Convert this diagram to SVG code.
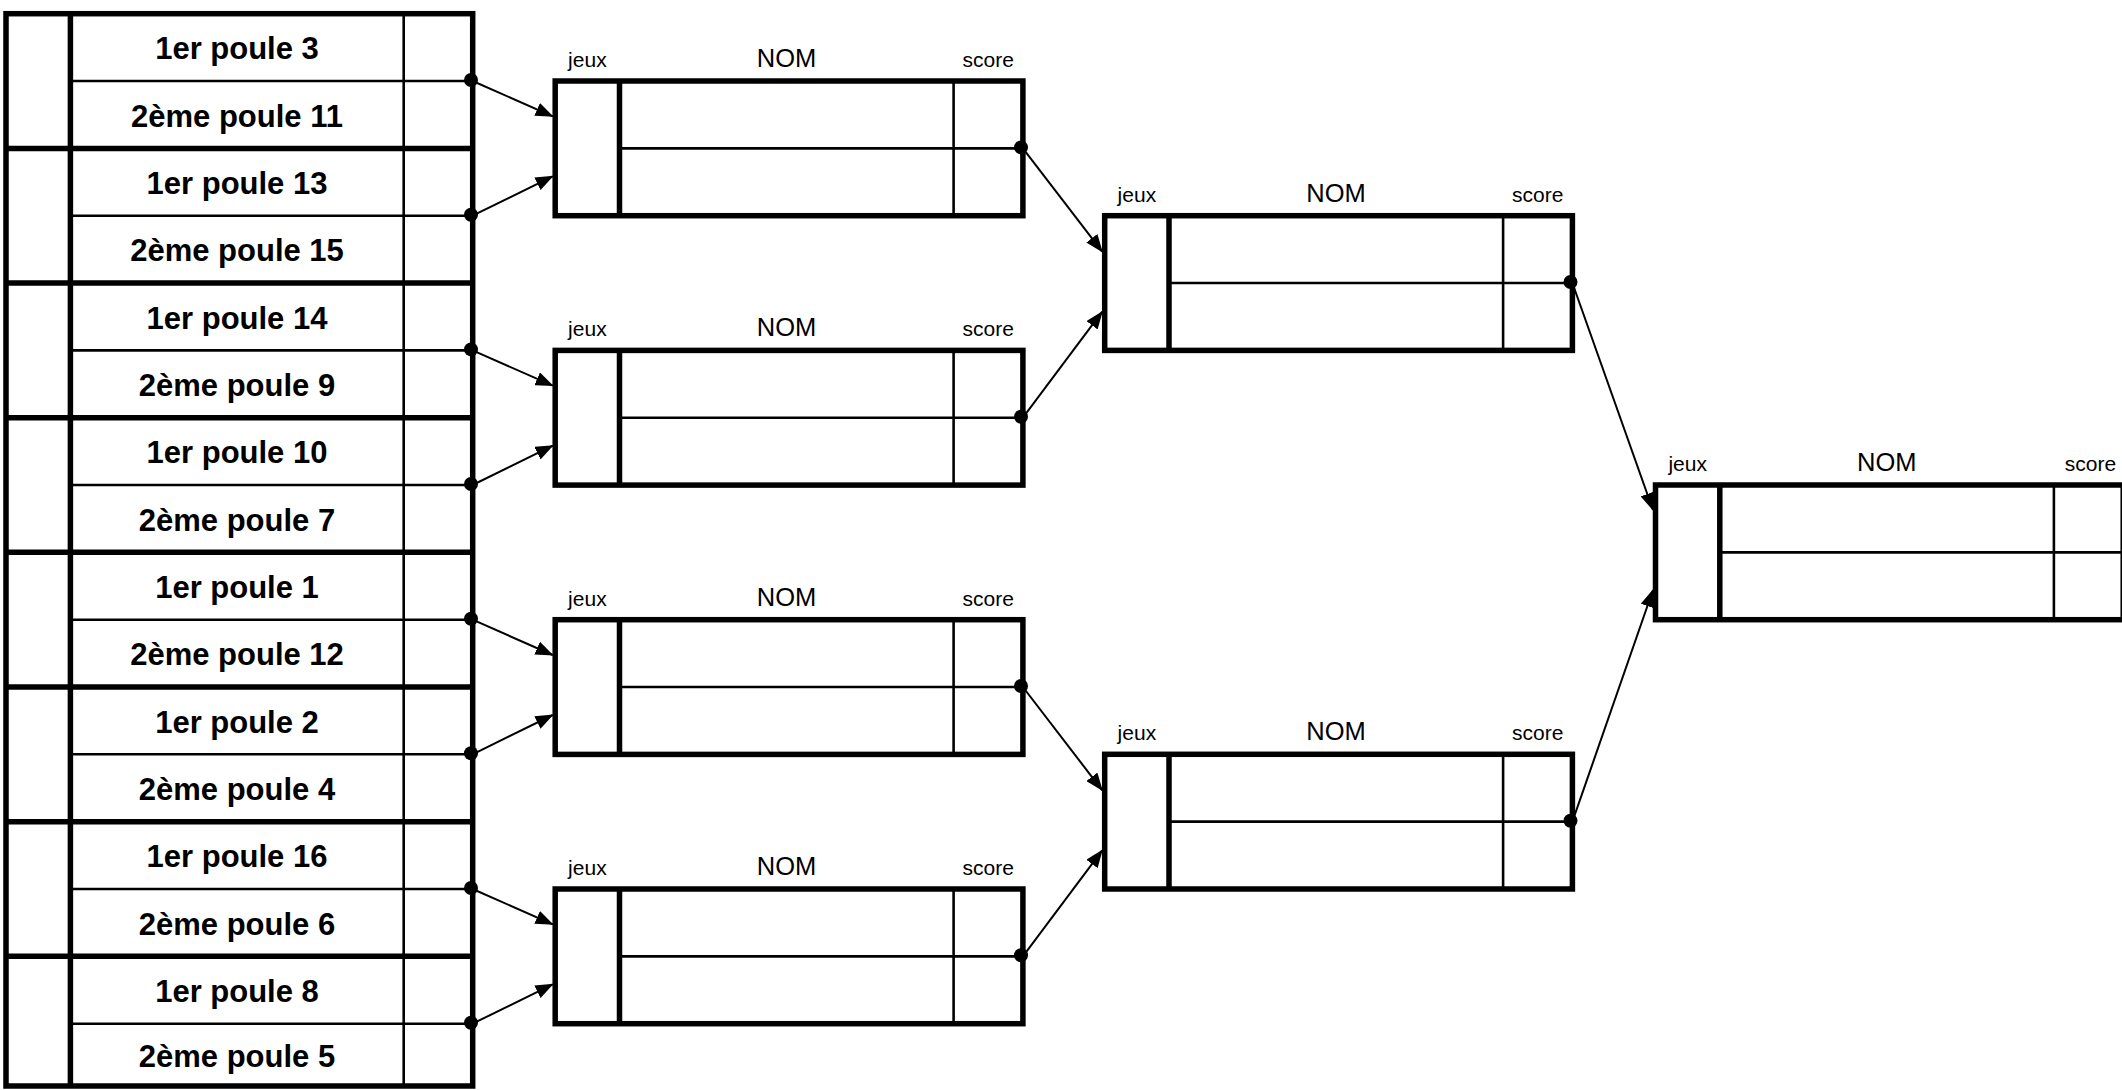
<svg xmlns="http://www.w3.org/2000/svg" width="2122" height="1090" viewBox="0 0 2122 1090">
<style>
.bg{fill:#fff}
.thick{stroke:#000;stroke-width:5.5;fill:none}
.thin{stroke:#000;stroke-width:2.6;fill:none}
.seed{font-family:"Liberation Sans",Arial,sans-serif;font-weight:bold;font-size:31px;text-anchor:middle;fill:#000}
.lab{font-family:"Liberation Sans",Arial,sans-serif;font-size:21px;text-anchor:middle;fill:#000}
.nom{font-family:"Liberation Sans",Arial,sans-serif;font-size:25.5px;text-anchor:middle;fill:#000}
.conn{stroke:#000;stroke-width:2;fill:none;marker-end:url(#ah)}
.dot{fill:#000}
</style>
<defs>
<marker id="ah" markerUnits="userSpaceOnUse" markerWidth="18" markerHeight="14" refX="17" refY="7" orient="auto">
<path d="M0,0 L18,7 L0,14 Z" fill="#000"/>
</marker>
</defs>
<rect class="bg" x="0" y="0" width="2122" height="1090"/>

<g id="seed-table">
<g id="seed-pair-1">
<line class="thin" x1="70.4" y1="81" x2="472.7" y2="81"/>
<text class="seed" x="237" y="59.4">1er poule 3</text>
<text class="seed" x="237" y="126.7">2ème poule 11</text>
</g>
<g id="seed-pair-2">
<line class="thin" x1="70.4" y1="215.7" x2="472.7" y2="215.7"/>
<text class="seed" x="237" y="194.1">1er poule 13</text>
<text class="seed" x="237" y="261.4">2ème poule 15</text>
</g>
<g id="seed-pair-3">
<line class="thin" x1="70.4" y1="350.4" x2="472.7" y2="350.4"/>
<text class="seed" x="237" y="328.7">1er poule 14</text>
<text class="seed" x="237" y="396.1">2ème poule 9</text>
</g>
<g id="seed-pair-4">
<line class="thin" x1="70.4" y1="485" x2="472.7" y2="485"/>
<text class="seed" x="237" y="463.4">1er poule 10</text>
<text class="seed" x="237" y="530.7">2ème poule 7</text>
</g>
<g id="seed-pair-5">
<line class="thin" x1="70.4" y1="619.7" x2="472.7" y2="619.7"/>
<text class="seed" x="237" y="598">1er poule 1</text>
<text class="seed" x="237" y="665.4">2ème poule 12</text>
</g>
<g id="seed-pair-6">
<line class="thin" x1="70.4" y1="754.3" x2="472.7" y2="754.3"/>
<text class="seed" x="237" y="732.7">1er poule 2</text>
<text class="seed" x="237" y="800">2ème poule 4</text>
</g>
<g id="seed-pair-7">
<line class="thin" x1="70.4" y1="889" x2="472.7" y2="889"/>
<text class="seed" x="237" y="867.4">1er poule 16</text>
<text class="seed" x="237" y="934.7">2ème poule 6</text>
</g>
<g id="seed-pair-8">
<line class="thin" x1="70.4" y1="1023.7" x2="472.7" y2="1023.7"/>
<text class="seed" x="237" y="1002">1er poule 8</text>
<text class="seed" x="237" y="1066.9">2ème poule 5</text>
</g>
<line class="thin" x1="403.7" y1="13.7" x2="403.7" y2="1086"/>
<line class="thick" x1="70.4" y1="13.7" x2="70.4" y2="1086"/>
<path class="thick" d="M6,148.4H472.7M6,283H472.7M6,417.7H472.7M6,552.3H472.7M6,687H472.7M6,821.7H472.7M6,956.3H472.7"/>
<rect class="thick" x="6" y="13.7" width="466.7" height="1072.3"/>
</g>

<g id="match-r1-1" transform="translate(555.2,81)">
<text class="lab" x="32.2" y="-14">jeux</text><text class="nom" x="231.3" y="-14">NOM</text><text class="lab" x="433" y="-14">score</text>
<line class="thin" x1="64.3" y1="67.35" x2="467.7" y2="67.35"/><line class="thin" x1="398.4" y1="0" x2="398.4" y2="134.7"/><line class="thick" x1="64.3" y1="0" x2="64.3" y2="134.7"/><rect class="thick" x="0" y="0" width="467.7" height="134.7"/>
</g>
<g id="match-r1-2" transform="translate(555.2,350.4)">
<text class="lab" x="32.2" y="-14">jeux</text><text class="nom" x="231.3" y="-14">NOM</text><text class="lab" x="433" y="-14">score</text>
<line class="thin" x1="64.3" y1="67.35" x2="467.7" y2="67.35"/><line class="thin" x1="398.4" y1="0" x2="398.4" y2="134.7"/><line class="thick" x1="64.3" y1="0" x2="64.3" y2="134.7"/><rect class="thick" x="0" y="0" width="467.7" height="134.7"/>
</g>
<g id="match-r1-3" transform="translate(555.2,619.7)">
<text class="lab" x="32.2" y="-14">jeux</text><text class="nom" x="231.3" y="-14">NOM</text><text class="lab" x="433" y="-14">score</text>
<line class="thin" x1="64.3" y1="67.35" x2="467.7" y2="67.35"/><line class="thin" x1="398.4" y1="0" x2="398.4" y2="134.7"/><line class="thick" x1="64.3" y1="0" x2="64.3" y2="134.7"/><rect class="thick" x="0" y="0" width="467.7" height="134.7"/>
</g>
<g id="match-r1-4" transform="translate(555.2,889)">
<text class="lab" x="32.2" y="-14">jeux</text><text class="nom" x="231.3" y="-14">NOM</text><text class="lab" x="433" y="-14">score</text>
<line class="thin" x1="64.3" y1="67.35" x2="467.7" y2="67.35"/><line class="thin" x1="398.4" y1="0" x2="398.4" y2="134.7"/><line class="thick" x1="64.3" y1="0" x2="64.3" y2="134.7"/><rect class="thick" x="0" y="0" width="467.7" height="134.7"/>
</g>
<g id="match-r2-1" transform="translate(1104.7,215.7)">
<text class="lab" x="32.2" y="-14">jeux</text><text class="nom" x="231.3" y="-14">NOM</text><text class="lab" x="433" y="-14">score</text>
<line class="thin" x1="64.3" y1="67.35" x2="467.7" y2="67.35"/><line class="thin" x1="398.4" y1="0" x2="398.4" y2="134.7"/><line class="thick" x1="64.3" y1="0" x2="64.3" y2="134.7"/><rect class="thick" x="0" y="0" width="467.7" height="134.7"/>
</g>
<g id="match-r2-2" transform="translate(1104.7,754.3)">
<text class="lab" x="32.2" y="-14">jeux</text><text class="nom" x="231.3" y="-14">NOM</text><text class="lab" x="433" y="-14">score</text>
<line class="thin" x1="64.3" y1="67.35" x2="467.7" y2="67.35"/><line class="thin" x1="398.4" y1="0" x2="398.4" y2="134.7"/><line class="thick" x1="64.3" y1="0" x2="64.3" y2="134.7"/><rect class="thick" x="0" y="0" width="467.7" height="134.7"/>
</g>
<g id="match-final" transform="translate(1655.5,485)">
<text class="lab" x="32.2" y="-14">jeux</text><text class="nom" x="231.3" y="-14">NOM</text><text class="lab" x="435" y="-14">score</text>
<line class="thin" x1="64.3" y1="67.35" x2="467.7" y2="67.35"/><line class="thin" x1="398.4" y1="0" x2="398.4" y2="134.7"/><line class="thick" x1="64.3" y1="0" x2="64.3" y2="134.7"/><rect class="thick" x="0" y="0" width="467.7" height="134.7"/>
</g>

<g id="connectors">
<line class="conn" x1="472.6" y1="81" x2="552.7" y2="116.3"/>
<line class="conn" x1="472.6" y1="215.7" x2="552.7" y2="176.3"/>
<line class="conn" x1="472.6" y1="350.4" x2="552.7" y2="385.7"/>
<line class="conn" x1="472.6" y1="485" x2="552.7" y2="445.7"/>
<line class="conn" x1="472.6" y1="619.7" x2="552.7" y2="655"/>
<line class="conn" x1="472.6" y1="754.3" x2="552.7" y2="715"/>
<line class="conn" x1="472.6" y1="889" x2="552.7" y2="924.3"/>
<line class="conn" x1="472.6" y1="1023.7" x2="552.7" y2="984.3"/>
<line class="conn" x1="1022.9" y1="148.4" x2="1102.2" y2="251.7"/>
<line class="conn" x1="1022.9" y1="417.7" x2="1102.2" y2="311.7"/>
<line class="conn" x1="1022.9" y1="687" x2="1102.2" y2="790.3"/>
<line class="conn" x1="1022.9" y1="956.3" x2="1102.2" y2="850.3"/>
<line class="conn" x1="1572.4" y1="283" x2="1653" y2="510"/>
<line class="conn" x1="1572.4" y1="821.7" x2="1653" y2="590"/>
<circle class="dot" cx="471" cy="80" r="7"/>
<circle class="dot" cx="471" cy="214.7" r="7"/>
<circle class="dot" cx="471" cy="349.4" r="7"/>
<circle class="dot" cx="471" cy="484" r="7"/>
<circle class="dot" cx="471" cy="618.7" r="7"/>
<circle class="dot" cx="471" cy="753.3" r="7"/>
<circle class="dot" cx="471" cy="888" r="7"/>
<circle class="dot" cx="471" cy="1022.7" r="7"/>
<circle class="dot" cx="1021" cy="147.4" r="7"/>
<circle class="dot" cx="1021" cy="416.7" r="7"/>
<circle class="dot" cx="1021" cy="686" r="7"/>
<circle class="dot" cx="1021" cy="955.3" r="7"/>
<circle class="dot" cx="1570.5" cy="282" r="7"/>
<circle class="dot" cx="1570.5" cy="820.7" r="7"/>
</g>
</svg>
